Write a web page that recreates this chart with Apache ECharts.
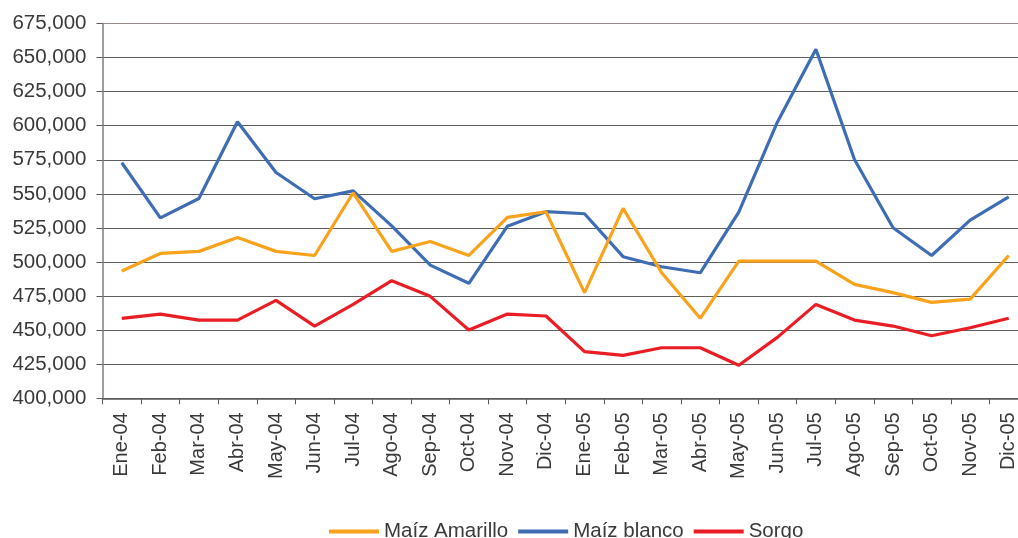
<!DOCTYPE html>
<html>
<head>
<meta charset="utf-8">
<script src="https://cdn.jsdelivr.net/npm/echarts@6/dist/echarts.min.js"></script>
<style>
html,body{margin:0;padding:0;background:#fff;overflow:hidden;width:1018px;height:538px;}
#chart{width:1040px;height:538px;}
</style>
</head>
<body>
<div id="chart"></div>
<script>
const categories = ['Ene-04','Feb-04','Mar-04','Abr-04','May-04','Jun-04','Jul-04','Ago-04','Sep-04','Oct-04','Nov-04','Dic-04',
  'Ene-05','Feb-05','Mar-05','Abr-05','May-05','Jun-05','Jul-05','Ago-05','Sep-05','Oct-05','Nov-05','Dic-05'];
const maizAmarillo = [493400,506300,507800,518000,507800,504800,550800,507800,515100,504800,532700,536900,
  477500,539300,492100,458700,500700,500700,500700,483600,477500,470400,472800,504800];
const maizBlanco = [572800,532400,546600,602900,565700,546400,552200,526500,497700,484400,526300,536900,
  535400,503900,496500,492100,536600,602600,656100,575200,525100,504800,530700,547800];
const sorgo = [458700,461800,457400,457400,471800,453000,468900,486300,474800,450100,461800,460400,
  434200,431500,437100,437100,424200,444700,468900,457400,453000,445900,451800,458700];
const seriesNames = ['Maíz Amarillo','Maíz blanco','Sorgo'];
const seriesColors = ['#F9A21B','#3F6DB4','#EA1D25'];

const FONT = 'Liberation Sans, Arial, sans-serif';
const chart = echarts.init(document.getElementById('chart'), null, {renderer:'canvas'});
const dataSets = [maizAmarillo, maizBlanco, sorgo];
chart.setOption({
  animation:false,
  backgroundColor:'#ffffff',
  grid:{left:102.5, right:12, top:23.5, bottom:139.7, containLabel:false},
  legend:{
    left:329, top:521, padding:0, icon:'rect', itemWidth:50, itemHeight:4, itemGap:10,
    textStyle:{fontFamily:FONT, fontSize:20.5, color:'#3a3a3a'},
    data:seriesNames
  },
  xAxis:{
    type:'category', data:categories, boundaryGap:true,
    axisLine:{lineStyle:{color:'#5a5a5a', width:1.5}},
    axisTick:{show:true, length:6, alignWithLabel:false, lineStyle:{color:'#5a5a5a'}},
    axisLabel:{rotate:90, fontFamily:FONT, fontSize:20, color:'#3a3a3a', margin:14, interval:0}
  },
  yAxis:{
    type:'value', min:400000, max:675000, interval:25000,
    axisLine:{show:true, lineStyle:{color:'#857a7a', width:1.5}},
    axisTick:{show:true, length:6, lineStyle:{color:'#5a5a5a'}},
    axisLabel:{fontFamily:FONT, fontSize:20.5, color:'#3a3a3a', margin:16,
      formatter:v=>v.toLocaleString('en-US')},
    splitLine:{show:true, lineStyle:{color:['#5e5e5e','#5e5e5e','#5e5e5e','#5e5e5e','#5e5e5e','#5e5e5e','#5e5e5e','#5e5e5e','#5e5e5e','#5e5e5e','#5e5e5e','#958a88'], width:1.2}}
  },
  series:dataSets.map((d,i)=>({
    name:seriesNames[i], type:'line', data:d, showSymbol:false, symbol:'none',
    color:seriesColors[i],
    lineStyle:{color:seriesColors[i], width:3.2},
    z:5-i
  }))
});
</script>
</body>
</html>
